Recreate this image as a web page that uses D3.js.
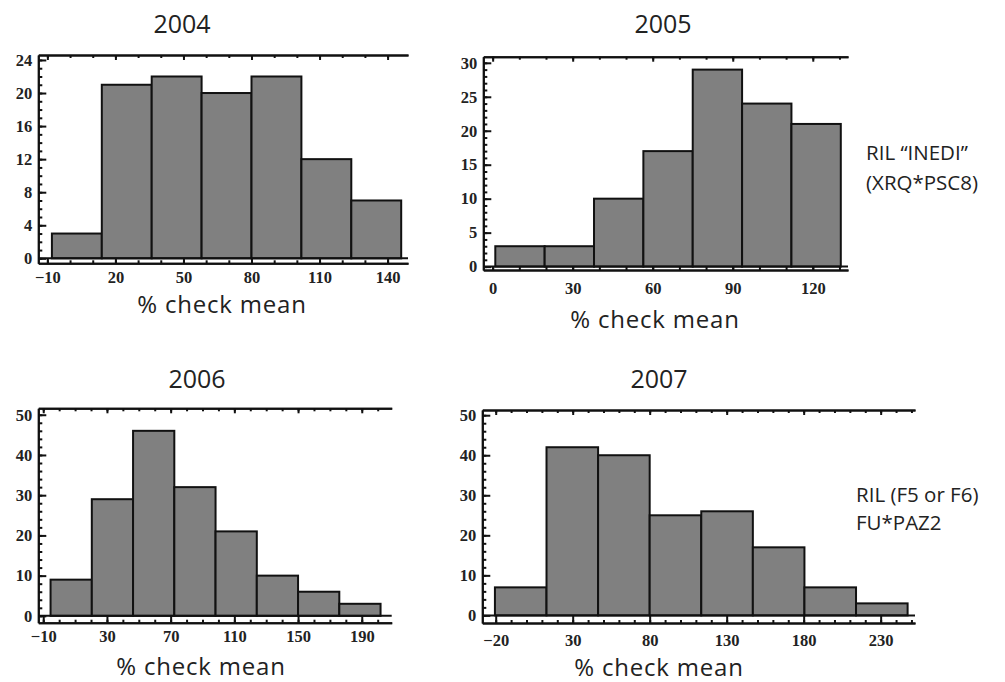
<!DOCTYPE html>
<html>
<head>
<meta charset="utf-8">
<title>RIL histograms</title>
<script src="https://d3js.org/d3.v7.min.js"></script>
<style>
  body { margin: 0; background: #fff; }
  .tick text { font-family: "Liberation Serif", serif; font-weight: bold; font-size: 16.5px; fill: #222; }
  .lbl { font-family: "Open Sans", sans-serif; fill: #222; }
</style>
</head>
<body>
<svg id="chart" width="1005" height="682"></svg>
<script>
// data
const years = ["2004", "2005", "2006", "2007"];

const edges2004 = [-8, 14, 36, 58, 80, 102, 124, 146];
const counts2004 = [3, 21, 22, 20, 22, 12, 7];
const xTicks2004 = [-10, 20, 50, 80, 110, 140];
const yTicks2004 = [0, 4, 8, 12, 16, 20, 24];

const edges2005 = [1, 19.5, 38, 56.5, 75, 93.5, 112, 130.5];
const counts2005 = [3, 3, 10, 17, 29, 24, 21];
const xTicks2005 = [0, 30, 60, 90, 120];
const yTicks2005 = [0, 5, 10, 15, 20, 25, 30];

const edges2006 = [-5.4, 20.5, 46.4, 72.3, 98.2, 124.1, 150, 175.9, 201.8];
const counts2006 = [9, 29, 46, 32, 21, 10, 6, 3];
const xTicks2006 = [-10, 30, 70, 110, 150, 190];
const yTicks2006 = [0, 10, 20, 30, 40, 50];

const edges2007 = [-20.5, 13, 46.5, 80, 113.5, 147, 180.5, 214, 247.5];
const counts2007 = [7, 42, 40, 25, 26, 17, 7, 3];
const xTicks2007 = [-20, 30, 80, 130, 180, 230];
const yTicks2007 = [0, 10, 20, 30, 40, 50];

const xLabel = "% check mean";
const sideLabels1 = ["RIL \u201CINEDI\u201D", "(XRQ*PSC8)"];
const sideLabels2 = ["RIL (F5 or F6)", "FU*PAZ2"];

// layout of each panel
const panels = [
  { edges: edges2004, counts: counts2004, xt: xTicks2004, yt: yTicks2004, xMinor: 10, yMinor: 1,
    xd: [-14, 149], xr: [38.3, 408], yd: [-0.6, 24.6], yr: [263.3, 55], pad: 7.5,
    title: [182, 33], lab: [222, 313] },
  { edges: edges2005, counts: counts2005, xt: xTicks2005, yt: yTicks2005, xMinor: 10, yMinor: 1,
    xd: [-3.5, 133.2], xr: [483.3, 848], yd: [-0.5, 30.9], yr: [270, 56.7], pad: 12,
    title: [663, 33], lab: [655, 328] },
  { edges: edges2006, counts: counts2006, xt: xTicks2006, yt: yTicks2006, xMinor: 10, yMinor: 2,
    xd: [-13.1, 208.8], xr: [38.3, 391.7], yd: [-1.7, 51.6], yr: [622.7, 408.3], pad: 8,
    title: [197, 388], lab: [201, 675] },
  { edges: edges2007, counts: counts2007, xt: xTicks2007, yt: yTicks2007, xMinor: 10, yMinor: 2,
    xd: [-28.7, 252.3], xr: [482.3, 915], yd: [-1.9, 51.3], yr: [623, 410], pad: 11,
    title: [659, 388], lab: [659, 676] }
];

const svg = d3.select("#chart");

panels.forEach(function(p, i) {
  const x = d3.scaleLinear().domain(p.xd).range(p.xr);
  const y = d3.scaleLinear().domain(p.yd).range(p.yr);
  const g = svg.append("g");
  const bottom = p.yr[0], top = p.yr[1], left = p.xr[0], right = p.xr[1];
  const gap = bottom - y(0);

  const xMinorTicks = d3.range(Math.ceil(p.xd[0] / p.xMinor) * p.xMinor, p.xd[1], p.xMinor);
  const yMinorTicks = d3.range(0, p.yd[1], p.yMinor);

  // bars
  const bins = p.counts.map((c, j) => ({ x0: p.edges[j], x1: p.edges[j + 1], n: c }));
  g.selectAll("rect.bar").data(bins).join("rect")
    .attr("class", "bar")
    .attr("x", d => x(d.x0))
    .attr("width", d => x(d.x1) - x(d.x0))
    .attr("y", d => y(d.n))
    .attr("height", d => y(0) - y(d.n))
    .attr("fill", "#808080")
    .attr("stroke", "#111")
    .attr("stroke-width", 2);

  // zero line
  g.append("line")
    .attr("x1", left).attr("x2", right)
    .attr("y1", y(0)).attr("y2", y(0))
    .attr("stroke", "#111").attr("stroke-width", 2);

  // bottom frame, minor + major ticks
  g.append("g").attr("transform", `translate(0,${bottom})`)
    .call(d3.axisBottom(x).tickValues(xMinorTicks).tickSize(-3).tickSizeOuter(0).tickFormat(""));
  g.append("g").attr("transform", `translate(0,${bottom})`)
    .call(d3.axisBottom(x).tickValues(p.xt).tickSize(-gap).tickSizeOuter(0).tickPadding(p.pad));

  // top frame
  g.append("g").attr("transform", `translate(0,${top})`)
    .call(d3.axisTop(x).tickValues(xMinorTicks).tickSize(-3).tickSizeOuter(0).tickFormat(""));
  g.append("g").attr("transform", `translate(0,${top})`)
    .call(d3.axisTop(x).tickValues(p.xt).tickSize(-5).tickSizeOuter(0).tickFormat(""));

  // left frame
  g.append("g").attr("transform", `translate(${left},0)`)
    .call(d3.axisLeft(y).tickValues(yMinorTicks).tickSize(-4).tickSizeOuter(0).tickFormat(""));
  g.append("g").attr("transform", `translate(${left},0)`)
    .call(d3.axisLeft(y).tickValues(p.yt).tickSize(-8).tickSizeOuter(0).tickPadding(6));

  g.selectAll(".domain").attr("stroke", "#111").attr("stroke-width", 2);
  g.selectAll(".tick line").attr("stroke", "#111").attr("stroke-width", 2);

  // titles
  g.append("text").attr("class", "lbl")
    .attr("x", p.title[0]).attr("y", p.title[1])
    .attr("text-anchor", "middle").style("font-size", "25px")
    .text(years[i]);
  g.append("text").attr("class", "lbl")
    .attr("x", p.lab[0]).attr("y", p.lab[1])
    .attr("text-anchor", "middle").style("font-size", "24px")
    .style("letter-spacing", "0.8px")
    .text(xLabel);
});

// side notes
svg.append("g").selectAll("text").data(sideLabels1).join("text")
  .attr("class", "lbl").style("font-size", "20.5px")
  .attr("x", 866).attr("y", (d, i) => 160 + i * 30)
  .text(d => d);
svg.append("g").selectAll("text").data(sideLabels2).join("text")
  .attr("class", "lbl").style("font-size", "20.5px")
  .attr("x", 856).attr("y", (d, i) => 502 + i * 28)
  .text(d => d);
</script>
</body>
</html>
